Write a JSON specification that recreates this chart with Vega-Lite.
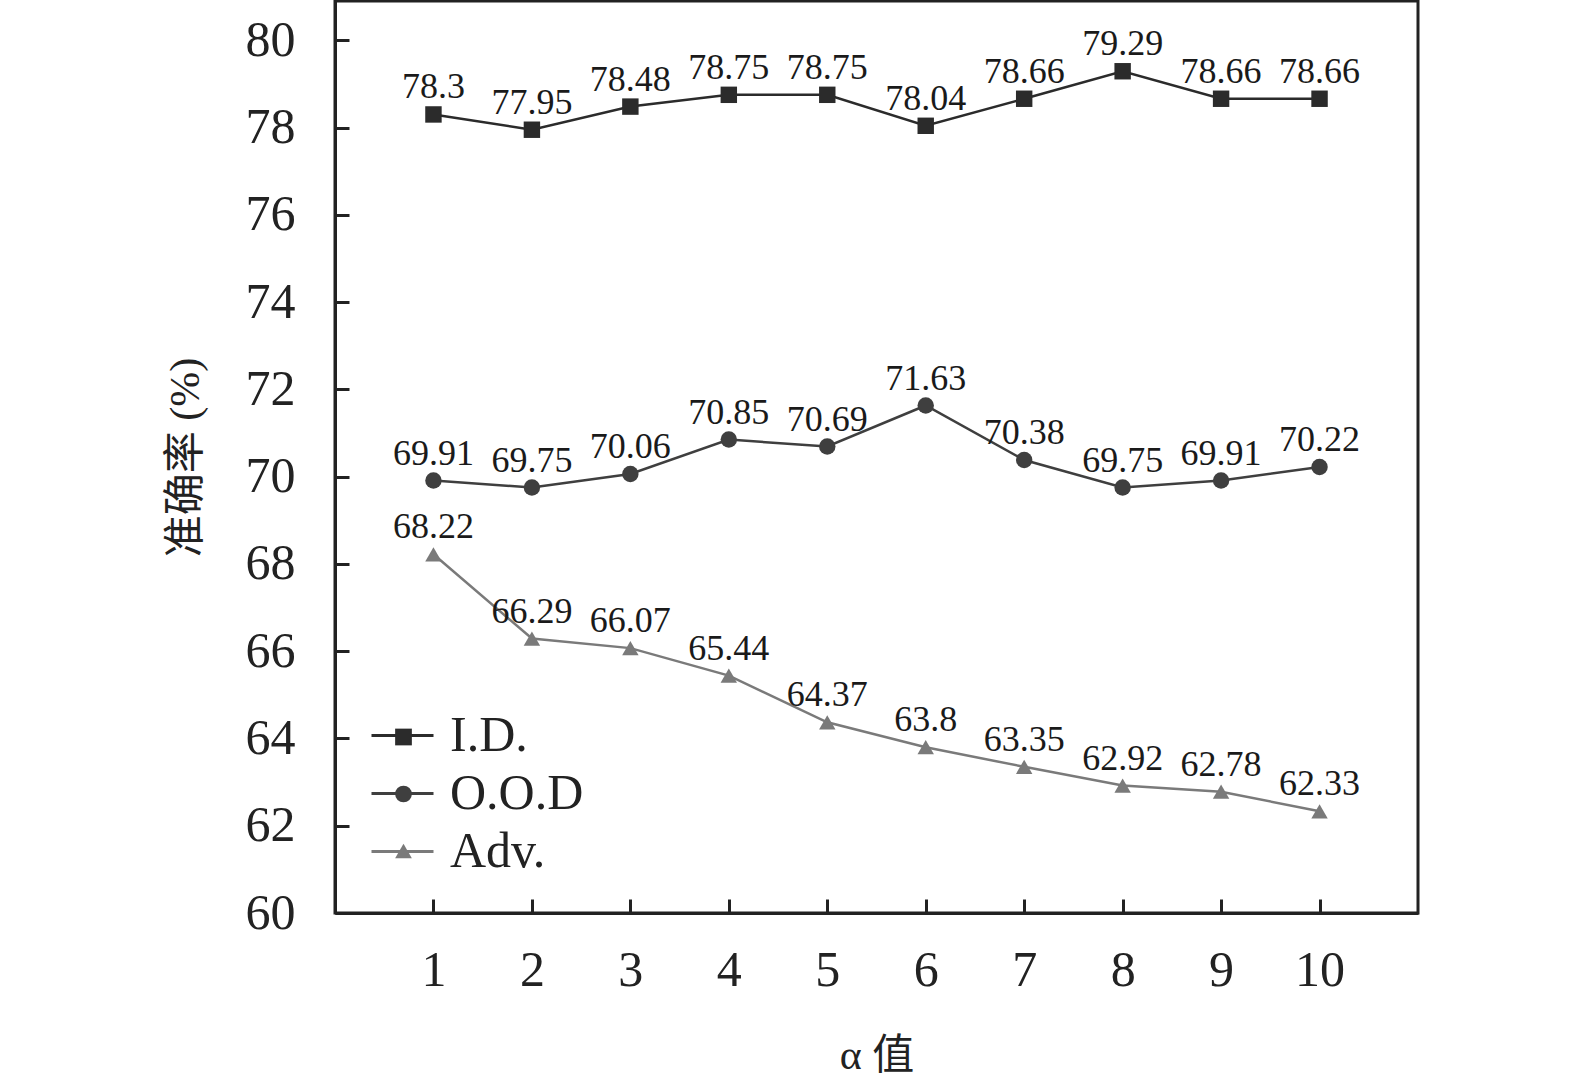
{
  "$schema": "https://vega.github.io/schema/vega-lite/v6.json",
  "description": "Accuracy vs alpha for I.D., O.O.D and Adv. test sets.",
  "width": 1083,
  "height": 912,
  "autosize": "none",
  "padding": {"left": 335, "top": 1, "right": 157, "bottom": 175},
  "background": "white",
  "config": {
    "font": "Liberation Serif, Noto Sans CJK SC",
    "view": {"stroke": "#222222", "strokeWidth": 3},
    "axis": {
      "grid": false,
      "domainColor": "#222222",
      "domainWidth": 3,
      "tickColor": "#222222",
      "tickWidth": 3,
      "tickSize": -14,
      "labelColor": "#222222",
      "labelFont": "Liberation Serif",
      "labelFontSize": 50,
      "titleColor": "#222222",
      "titleFont": "Liberation Serif, Noto Sans CJK SC",
      "titleFontSize": 42,
      "titleFontWeight": "normal"
    }
  },
  "data": {
    "values": [
      {"alpha": 1, "series": "I.D.", "value": 78.3},
      {"alpha": 2, "series": "I.D.", "value": 77.95},
      {"alpha": 3, "series": "I.D.", "value": 78.48},
      {"alpha": 4, "series": "I.D.", "value": 78.75},
      {"alpha": 5, "series": "I.D.", "value": 78.75},
      {"alpha": 6, "series": "I.D.", "value": 78.04},
      {"alpha": 7, "series": "I.D.", "value": 78.66},
      {"alpha": 8, "series": "I.D.", "value": 79.29},
      {"alpha": 9, "series": "I.D.", "value": 78.66},
      {"alpha": 10, "series": "I.D.", "value": 78.66},
      {"alpha": 1, "series": "O.O.D", "value": 69.91},
      {"alpha": 2, "series": "O.O.D", "value": 69.75},
      {"alpha": 3, "series": "O.O.D", "value": 70.06},
      {"alpha": 4, "series": "O.O.D", "value": 70.85},
      {"alpha": 5, "series": "O.O.D", "value": 70.69},
      {"alpha": 6, "series": "O.O.D", "value": 71.63},
      {"alpha": 7, "series": "O.O.D", "value": 70.38},
      {"alpha": 8, "series": "O.O.D", "value": 69.75},
      {"alpha": 9, "series": "O.O.D", "value": 69.91},
      {"alpha": 10, "series": "O.O.D", "value": 70.22},
      {"alpha": 1, "series": "Adv.", "value": 68.22},
      {"alpha": 2, "series": "Adv.", "value": 66.29},
      {"alpha": 3, "series": "Adv.", "value": 66.07},
      {"alpha": 4, "series": "Adv.", "value": 65.44},
      {"alpha": 5, "series": "Adv.", "value": 64.37},
      {"alpha": 6, "series": "Adv.", "value": 63.8},
      {"alpha": 7, "series": "Adv.", "value": 63.35},
      {"alpha": 8, "series": "Adv.", "value": 62.92},
      {"alpha": 9, "series": "Adv.", "value": 62.78},
      {"alpha": 10, "series": "Adv.", "value": 62.33}
    ]
  },
  "encoding": {
    "x": {
      "field": "alpha",
      "type": "quantitative",
      "title": "α 值",
      "scale": {"domain": [0, 11], "nice": false, "zero": false},
      "axis": {"values": [1, 2, 3, 4, 5, 6, 7, 8, 9, 10], "format": "d", "labelPadding": 46, "titlePadding": 40}
    },
    "y": {
      "field": "value",
      "type": "quantitative",
      "title": "准确率 (%)",
      "scale": {"domain": [60, 80.9], "nice": false, "zero": false},
      "axis": {"values": [60, 62, 64, 66, 68, 70, 72, 74, 76, 78, 80], "labelPadding": 54, "titlePadding": 38}
    }
  },
  "layer": [
    {
      "mark": {"type": "line", "strokeWidth": 2.5},
      "encoding": {
        "color": {
          "field": "series",
          "type": "nominal",
          "sort": ["I.D.", "O.O.D", "Adv."],
          "scale": {"range": ["#2b2b2b", "#3f3f3f", "#7a7a7a"]},
          "legend": {
            "title": null,
            "orient": "none",
            "legendX": 35,
            "legendY": 702,
            "symbolSize": 3844,
            "symbolStrokeWidth": 3,
            "labelFont": "Liberation Serif",
            "labelFontSize": 50,
            "labelColor": "#222222",
            "labelOffset": 15,
            "rowPadding": 0
          }
        }
      }
    },
    {
      "mark": {"type": "point", "filled": true, "opacity": 1, "size": 270},
      "encoding": {
        "fill": {
          "field": "series",
          "type": "nominal",
          "scale": {"domain": ["I.D.", "O.O.D", "Adv."], "range": ["#2b2b2b", "#3f3f3f", "#7a7a7a"]},
          "legend": {
            "title": null,
            "orient": "none",
            "legendX": 43.5,
            "legendY": 711,
            "symbolSize": 280,
            "labelFont": "Liberation Serif",
            "labelFontSize": 50,
            "labelColor": "#222222",
            "labelOpacity": 0,
            "labelOffset": 37.5,
            "rowPadding": 7
          }
        },
        "shape": {
          "field": "series",
          "type": "nominal",
          "scale": {"domain": ["I.D.", "O.O.D", "Adv."], "range": ["square", "circle", "triangle-up"]},
          "legend": {
            "title": null,
            "orient": "none",
            "legendX": 43.5,
            "legendY": 711,
            "symbolSize": 280,
            "labelFont": "Liberation Serif",
            "labelFontSize": 50,
            "labelColor": "#222222",
            "labelOpacity": 0,
            "labelOffset": 37.5,
            "rowPadding": 7
          }
        }
      }
    },
    {
      "mark": {"type": "text", "baseline": "alphabetic", "dy": -16, "fontSize": 36, "font": "Liberation Serif"},
      "encoding": {
        "text": {"field": "value", "type": "quantitative"},
        "color": {"value": "#1a1a1a"}
      }
    }
  ]
}
